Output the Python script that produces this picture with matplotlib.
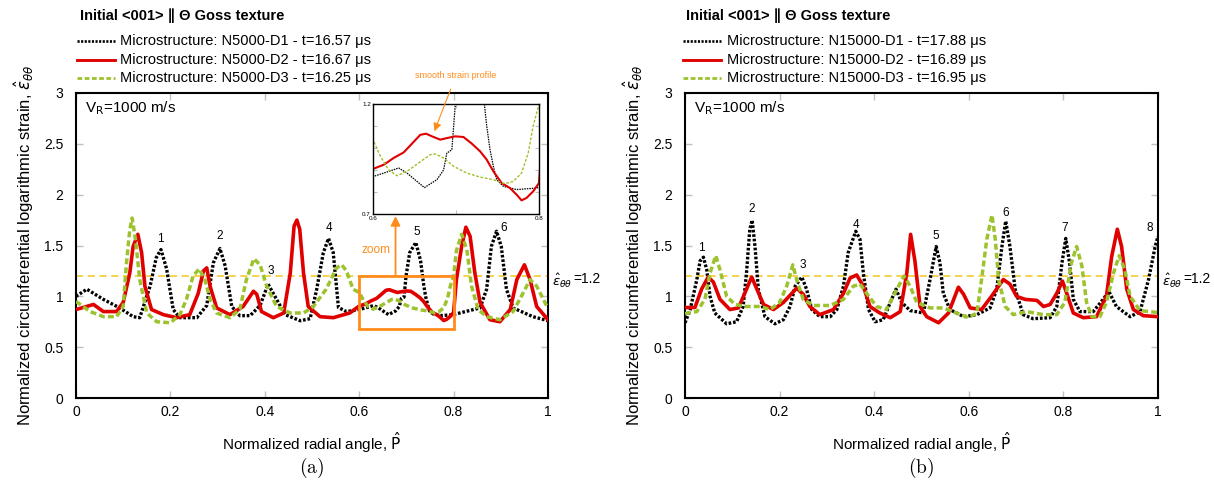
import matplotlib
matplotlib.use("Agg")
import matplotlib.pyplot as plt
from matplotlib.lines import Line2D
from matplotlib.patches import Rectangle
from matplotlib.transforms import blended_transform_factory

plt.rcParams['font.family'] = ['Liberation Sans', 'DejaVu Sans']
plt.rcParams['mathtext.fontset'] = 'dejavusans'

W, H = 1214, 488

# ---------------- data ----------------
# (a) N5000 microstructures
a_d1_x = [0, 0.023, 0.058, 0.093, 0.121, 0.135, 0.157, 0.170, 0.180, 0.192,
          0.206, 0.220, 0.256, 0.277, 0.291, 0.305, 0.316, 0.330, 0.347, 0.369,
          0.390, 0.407, 0.425, 0.443, 0.475, 0.496, 0.510, 0.524, 0.535, 0.545,
          0.556, 0.573, 0.600, 0.613, 0.631, 0.641, 0.653, 0.662, 0.677, 0.685,
          0.689, 0.695, 0.699, 0.707, 0.720, 0.730, 0.737, 0.741, 0.745, 0.749,
          0.757, 0.773, 0.797, 0.813, 0.856, 0.870, 0.880, 0.891, 0.901, 0.912,
          0.926, 0.968, 1.0]
a_d1_y = [1.00, 1.07, 0.97, 0.885, 0.80, 0.79, 1.10, 1.38, 1.46, 1.27,
          0.87, 0.79, 0.79, 0.91, 1.33, 1.47, 1.30, 0.90, 0.81, 0.81,
          0.91, 1.12, 0.97, 0.82, 0.76, 0.78, 1.07, 1.43, 1.57, 1.43,
          0.89, 0.85, 0.87, 0.886, 0.909, 0.886, 0.848, 0.82, 0.856, 0.90,
          0.977, 0.992, 1.19, 1.43, 1.53, 1.35, 1.10, 0.992, 0.917, 0.856,
          0.826, 0.811, 0.818, 0.836, 0.886, 1.07, 1.49, 1.64, 1.49, 1.07,
          0.886, 0.80, 0.76]

a_d2_x = [0, 0.037, 0.058, 0.086, 0.100, 0.114, 0.121, 0.131, 0.139, 0.146,
          0.160, 0.185, 0.213, 0.241, 0.259, 0.270, 0.277, 0.284, 0.298, 0.326,
          0.354, 0.376, 0.383, 0.393, 0.418, 0.440, 0.454, 0.462, 0.468, 0.474,
          0.482, 0.492, 0.517, 0.545, 0.580, 0.600, 0.613, 0.625, 0.637, 0.647,
          0.657, 0.664, 0.671, 0.681, 0.689, 0.699, 0.709, 0.719, 0.729, 0.737,
          0.745, 0.755, 0.765, 0.773, 0.779, 0.785, 0.793, 0.800, 0.806, 0.817,
          0.826, 0.835, 0.845, 0.856, 0.877, 0.898, 0.920, 0.934, 0.950, 0.962,
          0.976, 1.0]
a_d2_y = [0.87, 0.92, 0.85, 0.85, 0.94, 1.23, 1.49, 1.61, 1.43, 1.10,
          0.87, 0.82, 0.79, 0.82, 1.03, 1.25, 1.28, 1.10, 0.886, 0.82,
          0.90, 1.05, 1.02, 0.85, 0.79, 0.836, 1.23, 1.69, 1.75, 1.66,
          1.23, 0.90, 0.80, 0.79, 0.836, 0.905, 0.924, 0.955, 0.98, 1.02,
          1.06, 1.065, 1.053, 1.038, 1.045, 1.053, 1.05, 1.02, 0.985, 0.947,
          0.894, 0.841, 0.818, 0.788, 0.762, 0.773, 0.803, 0.841, 1.165, 1.49,
          1.68, 1.59, 1.23, 0.94, 0.77, 0.75, 0.87, 1.165, 1.31, 1.165,
          0.90, 0.77]

a_d3_x = [0, 0.030, 0.058, 0.086, 0.100, 0.107, 0.114, 0.119, 0.126, 0.135,
          0.150, 0.171, 0.200, 0.220, 0.234, 0.248, 0.261, 0.273, 0.284, 0.298,
          0.326, 0.347, 0.361, 0.377, 0.390, 0.404, 0.425, 0.454, 0.482, 0.503,
          0.530, 0.552, 0.563, 0.573, 0.587, 0.600, 0.609, 0.619, 0.629, 0.641,
          0.655, 0.669, 0.675, 0.685, 0.697, 0.713, 0.729, 0.745, 0.759, 0.769,
          0.779, 0.787, 0.793, 0.800, 0.806, 0.817, 0.828, 0.838, 0.852, 0.870,
          0.898, 0.926, 0.947, 0.962, 0.976, 1.0]
a_d3_y = [0.95, 0.85, 0.80, 0.80, 0.90, 1.33, 1.66, 1.77, 1.56, 1.165,
          0.836, 0.75, 0.74, 0.82, 0.97, 1.20, 1.27, 1.165, 0.97, 0.836,
          0.79, 0.87, 1.165, 1.37, 1.31, 1.10, 0.90, 0.836, 0.836, 0.90,
          1.07, 1.28, 1.31, 1.25, 1.07, 1.038, 0.962, 0.90, 0.874, 0.894,
          0.932, 0.97, 0.973, 0.955, 0.917, 0.886, 0.868, 0.856, 0.838, 0.848,
          0.886, 0.977, 1.10, 1.20, 1.45, 1.61, 1.46, 1.10, 0.87, 0.80,
          0.77, 0.85, 1.03, 1.165, 1.10, 0.88]

# (b) N15000 microstructures
b_d1_x = [0, 0.011, 0.025, 0.032, 0.039, 0.046, 0.053, 0.063, 0.088, 0.109,
          0.123, 0.130, 0.137, 0.142, 0.148, 0.155, 0.169, 0.190, 0.208, 0.222,
          0.233, 0.247, 0.257, 0.268, 0.285, 0.307, 0.321, 0.335, 0.345, 0.361,
          0.370, 0.377, 0.388, 0.402, 0.419, 0.434, 0.446, 0.458, 0.476, 0.504,
          0.518, 0.531, 0.539, 0.546, 0.560, 0.589, 0.617, 0.645, 0.659, 0.670,
          0.678, 0.687, 0.698, 0.715, 0.736, 0.772, 0.786, 0.797, 0.805, 0.813,
          0.821, 0.835, 0.863, 0.884, 0.896, 0.912, 0.941, 0.962, 0.980, 0.994,
          1.0]
b_d1_y = [0.74, 0.87, 1.165, 1.35, 1.385, 1.26, 1.00, 0.836, 0.73, 0.75,
          0.90, 1.23, 1.66, 1.75, 1.49, 1.07, 0.80, 0.73, 0.77, 0.90,
          1.10, 1.19, 1.07, 0.87, 0.80, 0.80, 0.87, 1.10, 1.43, 1.64,
          1.56, 1.23, 0.87, 0.75, 0.77, 0.94, 1.07, 0.94, 0.86, 0.836,
          1.165, 1.49, 1.33, 1.03, 0.87, 0.80, 0.82, 0.886, 1.07, 1.49,
          1.74, 1.49, 1.07, 0.82, 0.78, 0.79, 0.90, 1.33, 1.57, 1.33,
          0.97, 0.85, 0.85, 0.97, 1.05, 0.90, 0.80, 0.85, 1.165, 1.49,
          1.59]

b_d2_x = [0, 0.021, 0.035, 0.049, 0.060, 0.074, 0.095, 0.113, 0.130, 0.141,
          0.152, 0.166, 0.187, 0.208, 0.236, 0.250, 0.264, 0.285, 0.314, 0.335,
          0.349, 0.363, 0.377, 0.391, 0.412, 0.434, 0.455, 0.469, 0.477, 0.486,
          0.497, 0.511, 0.536, 0.557, 0.578, 0.589, 0.603, 0.627, 0.648, 0.673,
          0.687, 0.701, 0.719, 0.744, 0.758, 0.772, 0.786, 0.798, 0.807, 0.821,
          0.842, 0.870, 0.891, 0.902, 0.914, 0.923, 0.934, 0.948, 0.969, 1.0]
b_d2_y = [0.89, 0.89, 1.07, 1.19, 1.14, 0.97, 0.87, 0.886, 1.07, 1.19,
          1.07, 0.92, 0.87, 0.94, 1.08, 1.02, 0.90, 0.82, 0.87, 1.03,
          1.18, 1.21, 1.10, 0.90, 0.836, 0.79, 0.85, 1.23, 1.61, 1.35,
          0.90, 0.80, 0.74, 0.836, 1.09, 1.02, 0.886, 0.87, 1.00, 1.165,
          1.12, 1.00, 0.97, 0.96, 0.90, 0.92, 1.03, 1.15, 1.03, 0.836,
          0.79, 0.80, 1.00, 1.39, 1.66, 1.49, 1.07, 0.87, 0.81, 0.80]

b_d3_x = [0, 0.025, 0.042, 0.053, 0.065, 0.074, 0.088, 0.106, 0.130, 0.159,
          0.180, 0.200, 0.215, 0.228, 0.236, 0.250, 0.271, 0.307, 0.335, 0.356,
          0.370, 0.384, 0.405, 0.426, 0.448, 0.463, 0.476, 0.490, 0.518, 0.546,
          0.574, 0.599, 0.617, 0.627, 0.638, 0.649, 0.656, 0.663, 0.677, 0.694,
          0.722, 0.758, 0.786, 0.803, 0.817, 0.828, 0.839, 0.849, 0.860, 0.877,
          0.891, 0.906, 0.918, 0.930, 0.941, 0.962, 1.0]
b_d3_y = [0.83, 0.85, 0.97, 1.23, 1.40, 1.26, 1.00, 0.92, 0.90, 0.90,
          0.87, 0.94, 1.10, 1.31, 1.165, 0.97, 0.91, 0.91, 0.97, 1.10,
          1.12, 1.03, 0.90, 0.87, 1.07, 1.20, 1.10, 0.94, 0.886, 0.886,
          0.836, 0.79, 0.836, 1.165, 1.56, 1.80, 1.56, 1.165, 0.90, 0.82,
          0.85, 0.82, 0.82, 0.94, 1.33, 1.49, 1.30, 0.94, 0.80, 0.80,
          0.94, 1.23, 1.40, 1.26, 1.00, 0.86, 0.84]

legend_a = ["Microstructure: N5000-D1 - t=16.57 \u03bcs",
            "Microstructure: N5000-D2 - t=16.67 \u03bcs",
            "Microstructure: N5000-D3 - t=16.25 \u03bcs"]
legend_b = ["Microstructure: N15000-D1 - t=17.88 \u03bcs",
            "Microstructure: N15000-D2 - t=16.89 \u03bcs",
            "Microstructure: N15000-D3 - t=16.95 \u03bcs"]

peaks_a_labels = ["1", "2", "3", "4", "5", "6"]
peaks_a_x = [0.178, 0.305, 0.413, 0.535, 0.722, 0.907]
peaks_a_y = [1.56, 1.59, 1.25, 1.67, 1.63, 1.67]
peaks_b_labels = ["1", "2", "3", "4", "5", "6", "7", "8"]
peaks_b_x = [0.035, 0.140, 0.250, 0.361, 0.530, 0.678, 0.803, 0.983]
peaks_b_y = [1.48, 1.86, 1.31, 1.70, 1.59, 1.82, 1.67, 1.67]

threshold = 1.2
xticks = [0, 0.2, 0.4, 0.6, 0.8, 1.0]
xticklabels = ["0", "0.2", "0.4", "0.6", "0.8", "1"]
yticks = [0, 0.5, 1.0, 1.5, 2.0, 2.5, 3.0]
yticklabels = ["0", "0.5", "1", "1.5", "2", "2.5", "3"]

# ---------------- styles ----------------
BLACK, RED, GREEN = "#000000", "#e00000", "#9cc22e"
GOLD, ORANGE, TICKGREY = "#f5d040", "#ff8c1a", "#c0c0c0"
styles = [dict(color=BLACK, lw=2.4, ls=(0, (0.8, 0.55))),
          dict(color=RED, lw=2.6, ls="-"),
          dict(color=GREEN, lw=2.5, ls=(0, (1.7, 0.9)))]

fig = plt.figure(figsize=(W / 100, H / 100), dpi=100)


def fbox(left, top, right, bottom):
    return [left / W, 1 - bottom / H, (right - left) / W, (bottom - top) / H]


def fpt(x, y):
    return x / W, 1 - y / H


def style_axes(ax, width_px):
    ax.set_xlim(0, 1)
    ax.set_ylim(0, 3)
    ax.set_xticks(xticks)
    ax.set_xticklabels(xticklabels)
    ax.set_yticks(yticks)
    ax.set_yticklabels(yticklabels)
    ax.tick_params(direction="in", length=5, width=1, color=TICKGREY,
                   top=True, right=True, labelsize=10)
    ax.tick_params(axis="y", pad=9)
    ax.tick_params(axis="x", pad=5)
    for s in ax.spines.values():
        s.set_linewidth(1.5)
    ax.set_xlabel(r"Normalized radial angle, $\hat{\mathrm{P}}$", fontsize=11, labelpad=8)
    ax.set_ylabel(r"Normalized circumferential logarithmic strain, $\hat{\varepsilon}_{\theta\theta}$",
                  fontsize=12, labelpad=6)
    ax.axhline(threshold, color=GOLD, lw=1.3, ls=(0, (4, 2.5)), zorder=1)
    # threshold label outside the right spine
    tr = blended_transform_factory(ax.transAxes, ax.transData)
    ax.text(1 + 4 / width_px, threshold - 0.05, r"$\hat{\varepsilon}_{\theta\theta}$",
            transform=tr, fontsize=9.5, va="center", ha="left")
    ax.text(1 + 25 / width_px, threshold - 0.025, "=1.2",
            transform=tr, fontsize=10, va="center", ha="left")
    ax.text(0.02, 2.85, r"V$_{\mathrm{R}}$=1000 m/s", fontsize=11, va="center")


def draw_legend(x_handle, x_text, labels):
    tx, ty = fpt(x_handle + 3, 16)
    fig.text(tx, ty, "Initial <001> \u2225 \u0398 Goss texture", fontsize=10.5,
             fontweight="bold", va="center", ha="left")
    for i, (lab, st) in enumerate(zip(labels, styles)):
        yy = [41, 60, 78][i]
        x0, y0 = fpt(x_handle, yy)
        x1, _ = fpt(x_handle + 38, yy)
        fig.add_artist(Line2D([x0, x1], [y0, y0], transform=fig.transFigure,
                              color=st["color"], ls=st["ls"], lw=st["lw"] * 0.8))
        lx, _ = fpt(x_text, yy)
        fig.text(lx, y0, lab, fontsize=10.5, va="center", ha="left")


# ---------------- panel (a) ----------------
ax1 = fig.add_axes(fbox(76, 93, 548, 398))
style_axes(ax1, 472)
for (xs, ys), st in zip([(a_d1_x, a_d1_y), (a_d2_x, a_d2_y), (a_d3_x, a_d3_y)], styles):
    ax1.plot(xs, ys, **st, zorder=3)
for lab, px, py in zip(peaks_a_labels, peaks_a_x, peaks_a_y):
    ax1.text(px, py, lab, fontsize=8.5, ha="center", va="center")

# zoom window and arrow
ax1.add_patch(Rectangle((0.6, 0.68), 0.2, 0.52, fill=False, ec=ORANGE, lw=2, zorder=4))
ax1.annotate("", xy=(0.677, 1.79), xytext=(0.677, 1.2),
             arrowprops=dict(arrowstyle="-|>", color=ORANGE, lw=1.3,
                             mutation_scale=14, shrinkA=0, shrinkB=0))
ax1.text(0.635, 1.46, "zoom", color=ORANGE, fontsize=8.5, ha="center", va="center")

# inset
axi = fig.add_axes(fbox(373, 104, 539, 214))
axi.set_xlim(0.6, 0.8)
axi.set_ylim(0.7, 1.2)
axi.set_xticks([0.6, 0.7, 0.8])
axi.set_xticklabels(["0.6", "", "0.8"])
axi.set_yticks([0.7, 0.8, 0.9, 1.0, 1.1, 1.2])
axi.set_yticklabels(["0.7", "", "", "", "", "1.2"])
axi.tick_params(direction="in", length=3, width=0.8, color=TICKGREY,
                top=True, right=True, labelsize=4.5, pad=1.5)
for s in axi.spines.values():
    s.set_linewidth(1.0)
inset_styles = [dict(color=BLACK, lw=0.9, ls=(0, (1.2, 0.8))),
                dict(color=RED, lw=1.5, ls="-"),
                dict(color=GREEN, lw=1.0, ls=(0, (2.0, 1.2)))]
for (xs, ys), st in zip([(a_d1_x, a_d1_y), (a_d2_x, a_d2_y), (a_d3_x, a_d3_y)], inset_styles):
    axi.plot(xs, ys, **st)
axi.annotate("smooth strain profile", xy=(0.674, 1.076), xytext=(0.70, 1.33),
             color=ORANGE, fontsize=6.5, ha="center", va="center",
             annotation_clip=False,
             arrowprops=dict(arrowstyle="-|>", color=ORANGE, lw=0.8,
                             mutation_scale=12, shrinkA=5, shrinkB=0))

# ---------------- panel (b) ----------------
ax2 = fig.add_axes(fbox(685, 93, 1158, 398))
style_axes(ax2, 473)
for (xs, ys), st in zip([(b_d1_x, b_d1_y), (b_d2_x, b_d2_y), (b_d3_x, b_d3_y)], styles):
    ax2.plot(xs, ys, **st, zorder=3)
for lab, px, py in zip(peaks_b_labels, peaks_b_x, peaks_b_y):
    ax2.text(px, py, lab, fontsize=8.5, ha="center", va="center")

# legends and captions
draw_legend(77, 120, legend_a)
draw_legend(683, 727, legend_b)
for label, xc in (("(a)", 312), ("(b)", 921)):
    cx, cy = fpt(xc, 468)
    fig.text(cx, cy, r"$\mathrm{" + label + "}$", fontsize=14, math_fontfamily="cm",
             ha="center", va="center")

fig.savefig("out.png", dpi=100)
